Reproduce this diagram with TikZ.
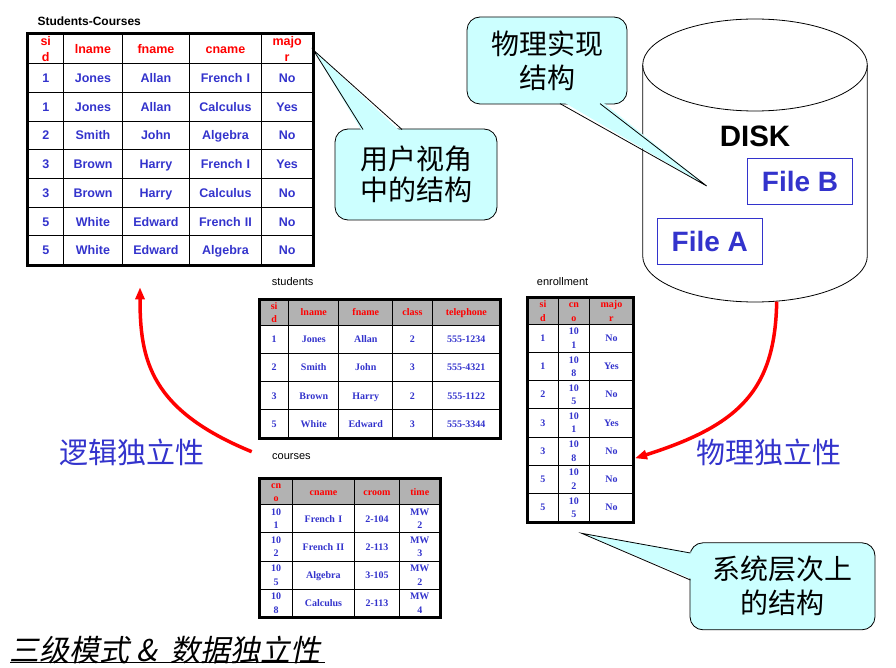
\documentclass[tikz,border=0pt]{standalone}
\usepackage{fontspec}
\usetikzlibrary{arrows.meta}
\usetikzlibrary{matrix}
\newfontfamily\arialfont{Liberation Sans}
\newfontfamily\timesfont{Liberation Serif}
\newfontfamily\cjk{Noto Sans CJK SC}
\newfontfamily\cjkslant[FakeSlant=0.2]{Noto Sans CJK SC}
\definecolor{txtblue}{RGB}{51,51,204}
\definecolor{hdrgray}{RGB}{178,178,178}
\definecolor{calloutcyan}{RGB}{204,255,255}
\tikzset{
  cell/.style={draw, line width=0.9pt, inner sep=0pt, outer sep=0pt, align=center, anchor=center, text=txtblue},
  bigtab/.style={matrix of nodes, inner sep=0pt, outer sep=0pt, row sep=-0.9pt, column sep=-0.9pt, anchor=north west,
    nodes={cell, minimum height=28.7, text height=10, text depth=1, font=\arialfont\bfseries\fontsize{12.5}{16}\selectfont},
    row 1/.style={nodes={text=red, minimum height=29.3}}},
  bigtwo/.style={text height=10, text depth=17},
  smalltab/.style={matrix of nodes, inner sep=0pt, outer sep=0pt, row sep=-0.9pt, column sep=-0.9pt, anchor=north west,
    nodes={cell, minimum height=28.1, text height=7.5, text depth=0.9, font=\timesfont\bfseries\fontsize{10}{13.5}\selectfont},
    row 1/.style={nodes={text=red, fill=hdrgray, minimum height=26}}},
  two/.style={text height=7.5, text depth=14.4},
  tabborder/.style={line width=3pt},
  tabtitle/.style={anchor=west, inner sep=0pt, font=\arialfont\fontsize{11}{12}\selectfont},
  callout/.style={draw, line width=0.8pt, fill=calloutcyan, rounded corners=13pt, align=center, inner sep=0pt,
    font=\cjk\fontsize{28}{34}\selectfont},
  filebox/.style={draw=txtblue, line width=1.1pt, text=txtblue, minimum width=105, minimum height=46,
    font=\arialfont\bfseries\fontsize{28}{30}\selectfont},
  indeplabel/.style={text=txtblue, inner sep=0pt, font=\cjk\fontsize{29}{30}\selectfont},
  redarrow/.style={red, line width=3.5pt, -{Triangle[length=12pt,width=9pt]}},
}
\begin{document}
\begin{tikzpicture}[x=1pt, y=-1pt]
  \useasboundingbox (0,0) rectangle (896,668);

  % disk
  \draw[line width=0.8pt, fill=white] (642.7,65) -- (642.7,256) arc[start angle=180, end angle=0, x radius=112.3, y radius=46] -- (867.3,65);
  \draw[line width=0.8pt] (755,65) ellipse [x radius=112.3, y radius=46];
  \node[font=\arialfont\bfseries\fontsize{29.5}{30}\selectfont] (disk) at (755,136) {DISK};
  \node[filebox] (fileB) at (800,181.3) {File B};
  \node[filebox] (fileA) at (709.8,241.3) {File A};

  % callouts
  \coordinate (uTip) at (313.3,50);
  \node[callout, minimum width=162, minimum height=91, font=\cjk\fontsize{28}{31}\selectfont] (cUser) at (416,174.5) {用户视角\\中的结构};
  \fill[calloutcyan] (363,133) -- (uTip) -- (402,133) -- cycle;
  \draw[line width=0.8pt] (363,129.5) -- (uTip) -- (402,129.5);

  \coordinate (pTip) at (706.7,186);
  \node[callout, minimum width=160, minimum height=87] (cPhys) at (547,60.5) {物理实现\\结构};
  \fill[calloutcyan] (560,100) -- (pTip) -- (600,100) -- cycle;
  \draw[line width=0.8pt] (560,103.6) -- (pTip) -- (600,103.6);

  \coordinate (sTip) at (581.7,533.3);
  \node[callout, minimum width=185, minimum height=87] (cSys) at (782.5,586.3) {系统层次上\\的结构};
  \fill[calloutcyan] (694,553) -- (sTip) -- (694,580) -- cycle;
  \draw[line width=0.8pt] (690.4,553) -- (sTip) -- (690.4,580);

  % user view table
  \node[tabtitle, font=\arialfont\bfseries\fontsize{12}{13}\selectfont] (scTitle) at (37.3,21) {Students-Courses};
  \matrix (sc) [bigtab, column 1/.style={nodes={text width=36}}, column 2/.style={nodes={text width=58.4}},
    column 3/.style={nodes={text width=67.6}}, column 4/.style={nodes={text width=71.4}},
    column 5/.style={nodes={text width=52}}] at (27.3,34) {
    |[bigtwo]| {si\\d} & lname & fname & cname & |[bigtwo]| {majo\\r} \\
    1 & Jones & Allan & French I & No \\
    1 & Jones & Allan & Calculus & Yes \\
    2 & Smith & John & Algebra & No \\
    3 & Brown & Harry & French I & Yes \\
    3 & Brown & Harry & Calculus & No \\
    5 & White & Edward & French II & No \\
    5 & White & Edward & Algebra & No \\
  };
  \draw[tabborder] (sc.north west) rectangle (sc.south east);

  % system tables
  \node[tabtitle] (stTitle) at (271.7,282) {students};
  \matrix (st) [smalltab, column 1/.style={nodes={text width=29.3}}, column 2/.style={nodes={text width=50}},
    column 3/.style={nodes={text width=54}}, column 4/.style={nodes={text width=39.4}},
    column 5/.style={nodes={text width=68.3}}] at (259,299) {
    |[two]| {si\\d} & lname & fname & class & telephone \\
    1 & Jones & Allan & 2 & 555-1234 \\
    2 & Smith & John & 3 & 555-4321 \\
    3 & Brown & Harry & 2 & 555-1122 \\
    5 & White & Edward & 3 & 555-3344 \\
  };
  \draw[tabborder] (st.north west) rectangle (st.south east);

  \node[tabtitle] (coTitle) at (272,457) {courses};
  \matrix (co) [smalltab, column 1/.style={nodes={text width=33.3}}, column 2/.style={nodes={text width=61.4}},
    column 3/.style={nodes={text width=45.6}}, column 4/.style={nodes={text width=40}}] at (259,478.3) {
    |[two]| {cn\\o} & cname & croom & time \\
    |[two]| {10\\1} & French I & 2-104 & |[two]| {MW\\2} \\
    |[two]| {10\\2} & French II & 2-113 & |[two]| {MW\\3} \\
    |[two]| {10\\5} & Algebra & 3-105 & |[two]| {MW\\2} \\
    |[two]| {10\\8} & Calculus & 2-113 & |[two]| {MW\\4} \\
  };
  \draw[tabborder] (co.north west) rectangle (co.south east);

  \node[tabtitle] (enTitle) at (536.7,282) {enrollment};
  \matrix (en) [smalltab, nodes={minimum height=28.2}, column 1/.style={nodes={text width=30.4}},
    column 2/.style={nodes={text width=31.6}}, column 3/.style={nodes={text width=43.4}}] at (527.3,297.7) {
    |[two]| {si\\d} & |[two]| {cn\\o} & |[two]| {majo\\r} \\
    1 & |[two]| {10\\1} & No \\
    1 & |[two]| {10\\8} & Yes \\
    2 & |[two]| {10\\5} & No \\
    3 & |[two]| {10\\1} & Yes \\
    3 & |[two]| {10\\8} & No \\
    5 & |[two]| {10\\2} & No \\
    5 & |[two]| {10\\5} & No \\
  };
  \draw[tabborder] (en.north west) rectangle (en.south east);

  % independence arrows
  \coordinate (logicStart) at (251.7,451.7);
  \coordinate (logicTip) at (140,287.3);
  \draw[redarrow] (logicStart) .. controls (150,410) and (140,360) .. (logicTip);
  \node[indeplabel] (logicLbl) at (132,452) {逻辑独立性};

  \coordinate (diskBottom) at (776.7,301.7);
  \coordinate (enTip) at (635,458.3);
  \draw[redarrow] (diskBottom) .. controls (775,390) and (740,425) .. (enTip);
  \node[indeplabel] (physLbl) at (769,452) {物理独立性};

  % page title
  \node[anchor=west, inner sep=0pt, font=\cjkslant\fontsize{30}{32}\selectfont] (pageTitle) at (9,650) {三级模式\hspace{7pt}\&\hspace{14pt}数据独立性};
  \draw[line width=1.2pt] (10,662.7) -- (325,662.7);
\end{tikzpicture}
\end{document}
